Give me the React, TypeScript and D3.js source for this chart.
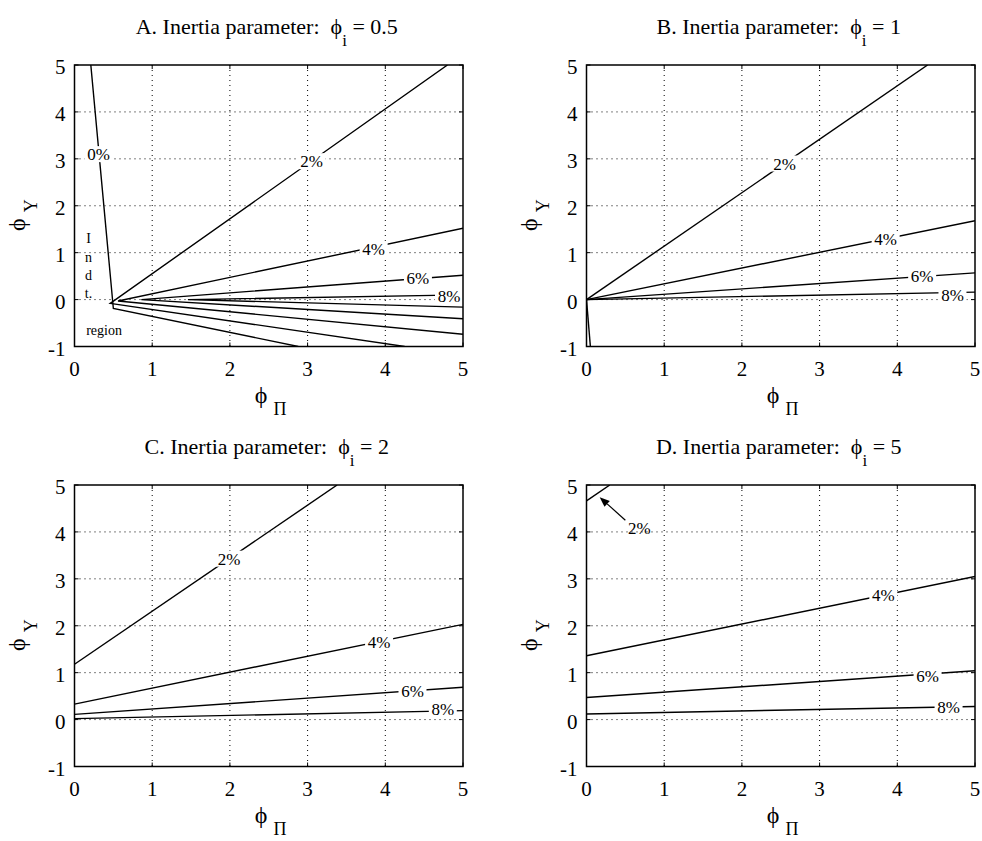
import React from 'react';
import * as d3 from 'd3';

// ---- data ----
const xTicks = [0, 1, 2, 3, 4, 5];
const yTicks = [-1, 0, 1, 2, 3, 4, 5];
const panelLetters = ['A', 'B', 'C', 'D'];
const inertiaValues = ['0.5', '1', '2', '5'];

type Pt = [number, number];
type Contour = { level: string; pts: Pt[]; label?: Pt };

const contoursA: Contour[] = [
  { level: '0%', pts: [[0.21, 5], [0.5, -0.19], [2.88, -1]], label: [0.31, 3.1] },
  { level: '2%', pts: [[4.8, 5], [0.46, -0.08], [4.25, -1]], label: [3.05, 2.95] },
  { level: '4%', pts: [[5, 1.52], [0.56, -0.03], [5, -0.74]], label: [3.85, 1.08] },
  { level: '6%', pts: [[5, 0.52], [0.86, 0.0], [5, -0.41]], label: [4.42, 0.46] },
  { level: '8%', pts: [[5, 0.1], [1.46, 0.0], [5, -0.16]], label: [4.82, 0.07] },
];
const contoursB: Contour[] = [
  { level: '0%', pts: [[0, 0], [0.05, -1]] },
  { level: '2%', pts: [[0, 0], [4.39, 5]], label: [2.55, 2.9] },
  { level: '4%', pts: [[0, 0], [5, 1.68]], label: [3.85, 1.29] },
  { level: '6%', pts: [[0, 0], [5, 0.57]], label: [4.32, 0.5] },
  { level: '8%', pts: [[0, 0], [5, 0.16]], label: [4.71, 0.1] },
];
const contoursC: Contour[] = [
  { level: '2%', pts: [[0, 1.18], [3.38, 5]], label: [1.99, 3.43] },
  { level: '4%', pts: [[0, 0.33], [5, 2.03]], label: [3.92, 1.66] },
  { level: '6%', pts: [[0, 0.11], [5, 0.69]], label: [4.35, 0.6] },
  { level: '8%', pts: [[0, 0.02], [5, 0.19]], label: [4.74, 0.22] },
];
const contoursD: Contour[] = [
  { level: '2%', pts: [[0, 4.66], [0.3, 5]] },
  { level: '4%', pts: [[0, 1.36], [5, 3.05]], label: [3.82, 2.65] },
  { level: '6%', pts: [[0, 0.47], [5, 1.04]], label: [4.39, 0.93] },
  { level: '8%', pts: [[0, 0.12], [5, 0.28]], label: [4.66, 0.27] },
];
const panelContours = [contoursA, contoursB, contoursC, contoursD];

// panel D arrow annotation for 2% (label position, arrow tail, arrow tip)
const arrowLabelD: Pt = [0.68, 4.08];
const arrowTailD: Pt = [0.5, 4.25];
const arrowTipD: Pt = [0.17, 4.74];

// indeterminacy region text in panel A
const indtLetters = ['I', 'n', 'd', 't.'];
const indtLetterY = [1.31, 0.9, 0.53, 0.14];
const indtX = 0.18;
const regionPos: Pt = [0.38, -0.64];

// ---- layout ----
const W = 982;
const H = 841;
const colLeft = [74.5, 586.5];
const plotW = 388.5;
const rowTop = [65, 485];
const plotH = 281.5;
const FONT = '"Liberation Serif", "Times New Roman", serif';
const PHI = '\u03D5';

function Panel({ idx }: { idx: number }) {
  const col = idx % 2;
  const row = Math.floor(idx / 2);
  const left = colLeft[col];
  const top = rowTop[row];
  const x = d3.scaleLinear().domain([0, 5]).range([left, left + plotW]);
  const y = d3.scaleLinear().domain([-1, 5]).range([top + plotH, top]);
  const line = d3.line<Pt>().x(d => x(d[0])).y(d => y(d[1]));
  const clipId = `clip${idx}`;
  const contours = panelContours[idx];
  const cx = left + plotW / 2;

  return (
    <g>
      <defs>
        <clipPath id={clipId}>
          <rect x={left} y={top} width={plotW} height={plotH} />
        </clipPath>
      </defs>
      {/* title */}
      <text x={cx - 2} y={top - 31} textAnchor="middle" fontFamily={FONT} fontSize={22}>
        {`${panelLetters[idx]}. Inertia parameter:\u00a0\u00a0`}
        <tspan>{PHI}</tspan>
        <tspan dy={12} fontSize={17}>i</tspan>
        <tspan dy={-12}>{` = ${inertiaValues[idx]}`}</tspan>
      </text>
      {/* grid */}
      {xTicks.slice(1, -1).map(t => (
        <line key={'gx' + t} x1={x(t)} x2={x(t)} y1={top} y2={top + plotH}
          stroke="#000" strokeWidth={1} strokeDasharray="1,4" />
      ))}
      {yTicks.slice(1, -1).map(t => (
        <line key={'gy' + t} x1={left} x2={left + plotW} y1={y(t)} y2={y(t)}
          stroke="#000" strokeWidth={1} strokeDasharray="1,4" />
      ))}
      {/* ticks */}
      {xTicks.map(t => (
        <g key={'tx' + t}>
          <line x1={x(t)} x2={x(t)} y1={top + plotH} y2={top + plotH - 4} stroke="#000" />
          <line x1={x(t)} x2={x(t)} y1={top} y2={top + 4} stroke="#000" />
          <text x={x(t)} y={top + plotH + 29} textAnchor="middle" fontFamily={FONT} fontSize={21}>{t}</text>
        </g>
      ))}
      {yTicks.map(t => (
        <g key={'ty' + t}>
          <line x1={left} x2={left + 4} y1={y(t)} y2={y(t)} stroke="#000" />
          <line x1={left + plotW} x2={left + plotW - 4} y1={y(t)} y2={y(t)} stroke="#000" />
          <text x={left - 9} y={y(t) + 9} textAnchor="end" fontFamily={FONT} fontSize={21}>{t}</text>
        </g>
      ))}
      {/* contours */}
      <g clipPath={`url(#${clipId})`}>
        {contours.map((c, i) => (
          <path key={'c' + i} d={line(c.pts) || ''} fill="none" stroke="#000" strokeWidth={1.4} />
        ))}
      </g>
      {/* contour labels */}
      {contours.filter(c => c.label).map((c, i) => {
        const lx = x(c.label![0]);
        const ly = y(c.label![1]);
        return (
          <g key={'l' + i}>
            <rect x={lx - 14} y={ly - 8} width={28} height={16} fill="#fff" />
            <text x={lx} y={ly + 6} textAnchor="middle" fontFamily={FONT} fontSize={17}>{c.level}</text>
          </g>
        );
      })}
      {idx === 0 && (
        <g fontFamily={FONT} fontSize={14}>
          {indtLetters.map((s, i) => (
            <text key={'in' + i} x={x(indtX)} y={y(indtLetterY[i]) + 5} textAnchor="middle">{s}</text>
          ))}
          <text x={x(regionPos[0])} y={y(regionPos[1]) + 5} textAnchor="middle">region</text>
        </g>
      )}
      {idx === 3 && (() => {
        const tx = x(arrowTailD[0]), ty = y(arrowTailD[1]);
        const px = x(arrowTipD[0]), py = y(arrowTipD[1]);
        const ang = Math.atan2(py - ty, px - tx);
        const L = 10, Wd = 4;
        const bx = px - L * Math.cos(ang), by = py - L * Math.sin(ang);
        const nx = -Math.sin(ang) * Wd, ny = Math.cos(ang) * Wd;
        return (
          <g>
            <line x1={tx} y1={ty} x2={bx} y2={by} stroke="#000" strokeWidth={1.2} />
            <path d={`M${px},${py}L${bx + nx},${by + ny}L${bx - nx},${by - ny}Z`} fill="#000" />
            <text x={x(arrowLabelD[0])} y={y(arrowLabelD[1]) + 6} textAnchor="middle" fontFamily={FONT} fontSize={17}>2%</text>
          </g>
        );
      })()}
      {/* box */}
      <rect x={left} y={top} width={plotW} height={plotH} fill="none" stroke="#000" strokeWidth={1.5} />
      {/* x label */}
      <text x={cx - 14} y={top + plotH + 56} fontFamily={FONT} fontSize={24}>
        {PHI}<tspan dx={6} dy={12} fontSize={18}>Π</tspan>
      </text>
      {/* y label */}
      <text transform={`translate(${left - 50},${top + 166}) rotate(-90)`} fontFamily={FONT} fontSize={24}>
        {PHI}<tspan dx={6} dy={12} fontSize={18}>Y</tspan>
      </text>
    </g>
  );
}

export default function App() {
  return (
    <div style={{ position: 'absolute', left: 0, top: 0 }}>
      <svg width={W} height={H} viewBox={`0 0 ${W} ${H}`} style={{ display: 'block', background: '#fff' }}>
        <rect x={0} y={0} width={W} height={H} fill="#fff" />
        {[0, 1, 2, 3].map(i => <Panel key={i} idx={i} />)}
      </svg>
    </div>
  );
}
